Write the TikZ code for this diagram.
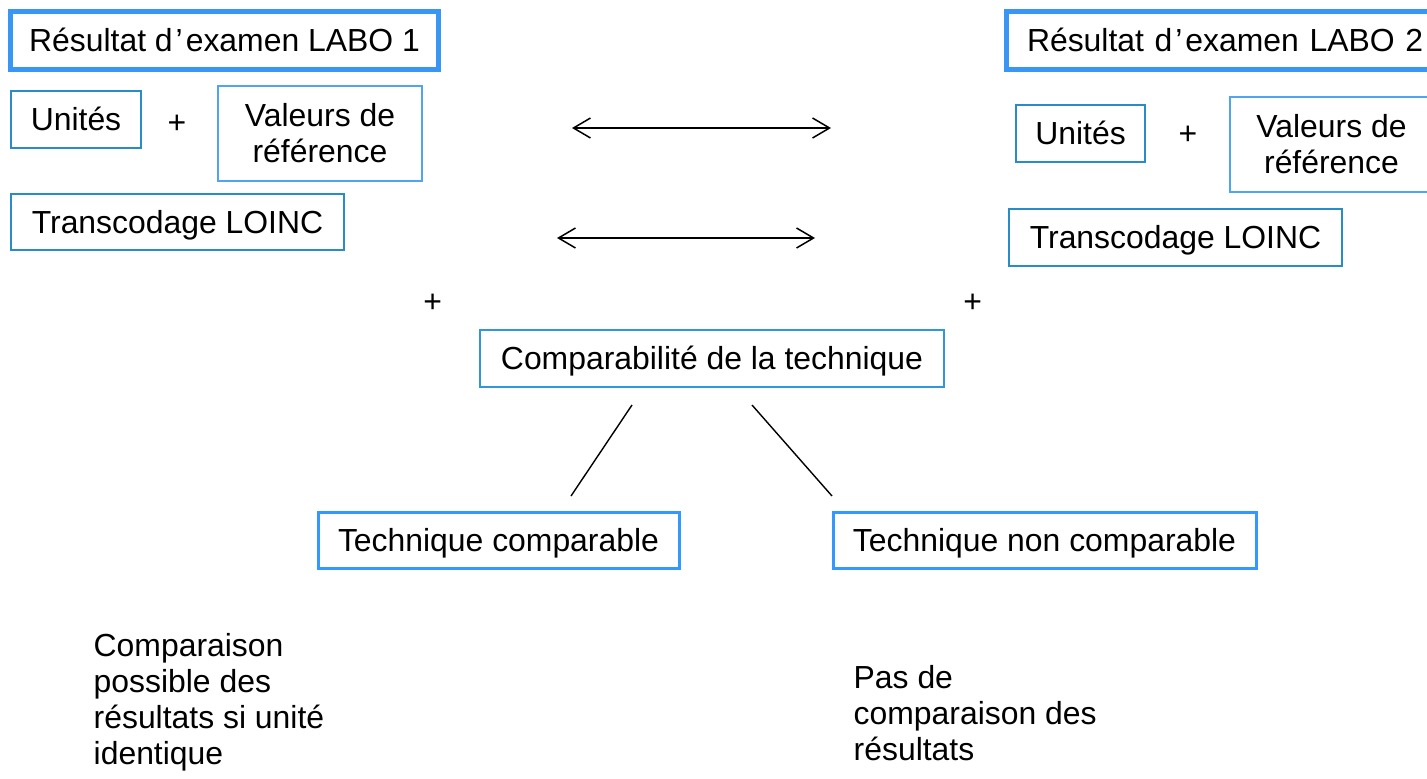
\documentclass[tikz,border=0pt]{standalone}
\usepackage{fontspec}
\setmainfont{Liberation Sans}
\usetikzlibrary{arrows.meta}
\definecolor{labocol}{RGB}{58,150,245}
\definecolor{boxa}{RGB}{40,140,200}
\definecolor{boxb}{RGB}{80,165,240}
\definecolor{compcol}{RGB}{50,150,220}
\definecolor{techcol}{RGB}{51,153,255}
\tikzset{
  txt/.style={font=\fontsize{31.9}{36}\selectfont, inner sep=0pt},
  onel/.style={text height=22.9pt, text depth=0pt},
  labobox/.style={txt, onel, draw=labocol, line width=5.5pt},
  ubox/.style={txt, onel, draw=boxa, line width=2.2pt},
  vbox/.style={txt, align=center, draw=boxb, line width=2pt},
  compbox/.style={txt, onel, draw=compcol, line width=2pt},
  techbox/.style={txt, onel, draw=techcol, line width=3pt},
  plus/.style={txt, anchor=base},
  dbl/.style={{Straight Barb[length=17pt,width=20pt]}-{Straight Barb[length=17pt,width=20pt]}, line width=1.5pt},
  branch/.style={line width=1.4pt},
  freetext/.style={txt, align=left, anchor=north west}
}
\begin{document}
\begin{tikzpicture}[x=1pt,y=-1pt]
\useasboundingbox (0,0) rectangle (1427,779);
\clip (0,0) rectangle (1427,779);
% left column
\node[labobox, minimum width=428pt, minimum height=58pt] (labo1) at (224.5,40.5) {Résultat d\hspace{3pt}’\hspace{3pt}examen LABO 1};
\node[ubox, minimum width=130pt, minimum height=57pt] (u1) at (76,119.5) {Unités};
\node[plus] (p1) at (177,133.5) {+};
\node[vbox, minimum width=204pt, minimum height=95pt] (v1) at (320,133.5) {Valeurs de\\référence};
\node[ubox, minimum width=333pt, minimum height=56pt] (t1) at (177.5,222) {Transcodage LOINC};
% right column
\node[labobox, minimum width=433pt, minimum height=58pt, text width=433pt, align=left] (labo2) at (1223,40.5) {\hspace{20.5pt}Résultat d\hspace{3pt}’\hspace{3pt}examen LABO 2};
\node[ubox, minimum width=129pt, minimum height=57pt] (u2) at (1080.5,133.5) {Unités};
\node[plus] (p2) at (1188,144.5) {+};
\node[vbox, minimum width=203pt, minimum height=95pt] (v2) at (1331.5,144.5) {Valeurs de\\référence};
\node[ubox, minimum width=333pt, minimum height=57pt] (t2) at (1175.5,237.5) {Transcodage LOINC};
% arrows
\coordinate (a1l) at (572,128);
\coordinate (a1r) at (831,128);
\coordinate (a2l) at (557,238);
\coordinate (a2r) at (815,238);
\draw[dbl] (a1l) -- (a1r);
\draw[dbl] (a2l) -- (a2r);
% lower plus signs
\node[plus] (p3) at (432.7,312) {+};
\node[plus] (p4) at (972.7,312) {+};
% comparability
\node[compbox, minimum width=464pt, minimum height=57pt] (comp) at (712,358.5) {Comparabilité de la technique};
\node[techbox, minimum width=361pt, minimum height=56pt] (tc) at (498.5,540) {Technique comparable};
\node[techbox, minimum width=423pt, minimum height=56pt] (tnc) at (1044.5,540) {Technique non comparable};
\coordinate (b1s) at (632,405);
\coordinate (b1e) at (571,496);
\coordinate (b2s) at (752,405);
\coordinate (b2e) at (832,496);
\draw[branch] (b1s) -- (b1e);
\draw[branch] (b2s) -- (b2e);
% conclusions
\node[freetext] (res1) at (93.5,633) {Comparaison\\possible des\\résultats si unité\\identique};
\node[freetext] (res2) at (853.5,665.5) {Pas de\\comparaison des\\résultats};
\end{tikzpicture}
\end{document}
